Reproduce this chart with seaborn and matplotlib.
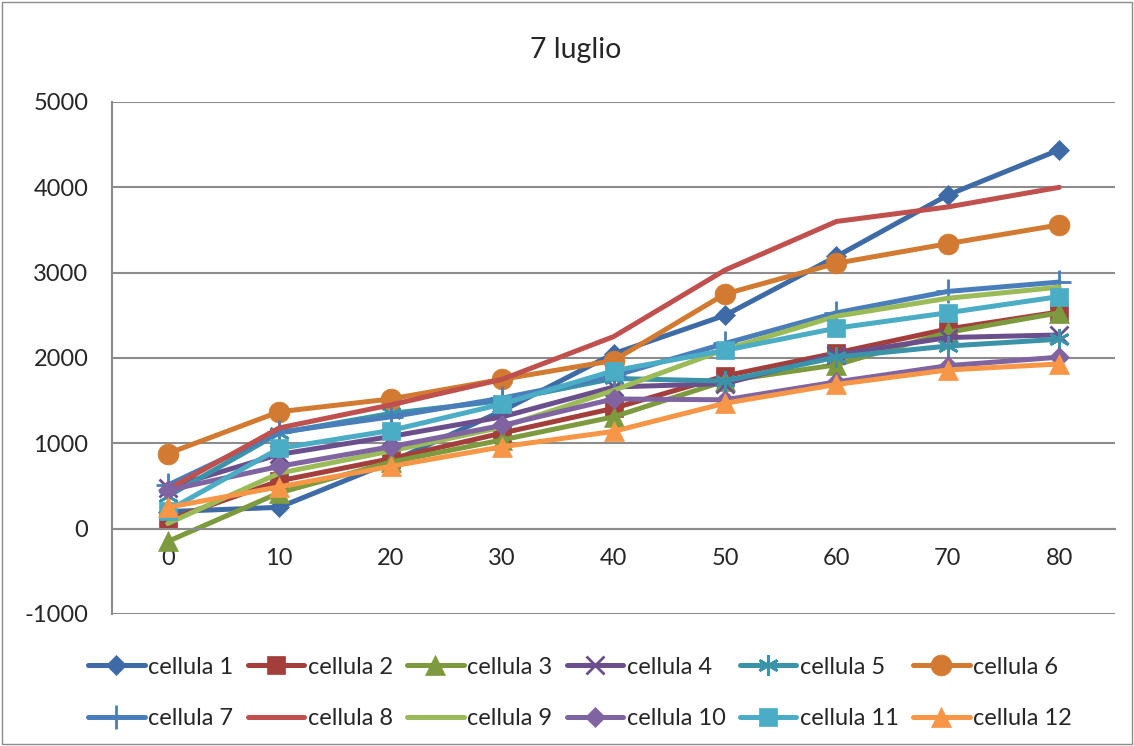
import matplotlib
matplotlib.use("Agg")
import matplotlib.pyplot as plt
import seaborn as sns
import pandas as pd
from matplotlib.patches import Rectangle

minutes = [0, 10, 20, 30, 40, 50, 60, 70, 80]
cellula_1 = [200, 250, 780, 1380, 2050, 2500, 3190, 3910, 4440]
cellula_2 = [100, 560, 820, 1120, 1410, 1790, 2060, 2340, 2540]
cellula_3 = [-150, 420, 780, 1040, 1310, 1730, 1920, 2300, 2530]
cellula_4 = [480, 870, 1080, 1310, 1660, 1700, 2040, 2240, 2270]
cellula_5 = [380, 1120, 1350, 1500, 1760, 1730, 2010, 2140, 2220]
cellula_6 = [880, 1370, 1520, 1750, 1970, 2750, 3110, 3340, 3560]
cellula_7 = [510, 1130, 1310, 1530, 1790, 2170, 2530, 2780, 2890]
cellula_8 = [460, 1180, 1450, 1750, 2250, 3030, 3600, 3770, 4000]
cellula_9 = [60, 650, 910, 1190, 1620, 2100, 2490, 2700, 2830]
cellula_10 = [450, 730, 960, 1210, 1520, 1510, 1720, 1910, 2010]
cellula_11 = [210, 940, 1150, 1460, 1850, 2090, 2350, 2530, 2720]
cellula_12 = [250, 490, 730, 960, 1140, 1470, 1690, 1860, 1930]

series_names = ["cellula %d" % i for i in range(1, 13)]
series_values = [cellula_1, cellula_2, cellula_3, cellula_4, cellula_5, cellula_6,
                 cellula_7, cellula_8, cellula_9, cellula_10, cellula_11, cellula_12]
y_ticks = [-1000, 0, 1000, 2000, 3000, 4000, 5000]
title = "7 luglio"

colors = ["#3E6BA5", "#A43E3B", "#7D9B3E", "#6B4F8D", "#3A93A9", "#D27A31",
          "#4A7EBB", "#C0504D", "#9BBB59", "#8064A2", "#4BACC6", "#F79646"]
markers = ["D", "s", "^", "x", (6, 2, 0), "o", "+", None, None, "D", "s", "^"]
msizes = [10.5, 13, 14, 13, 15, 15, 17, 0, 0, 10.5, 13, 14]

sns.set_theme(style="white")
plt.rcParams['font.family'] = ['Lato', 'DejaVu Sans']
plt.rcParams['axes.unicode_minus'] = False

fig = plt.figure(figsize=(11.34, 7.46), dpi=100)
ax = fig.add_axes([112/1134, 1 - 614/746, (1115-112)/1134, (614-102)/746])

df = pd.DataFrame({
    "x": minutes * 12,
    "y": [v for s in series_values for v in s],
    "serie": [n for n in series_names for _ in minutes],
})

for i, name in enumerate(series_names):
    sub = df[df["serie"] == name]
    m = markers[i]
    if m is None:
        kw = dict(marker=None)
    else:
        thin = m in ("x", "+") or isinstance(m, tuple)
        kw = dict(marker=m, markersize=msizes[i], markeredgewidth=2 if thin else 0.5,
                  markeredgecolor=colors[i])
    sns.lineplot(data=sub, x="x", y="y", ax=ax, color=colors[i], linewidth=3.6,
                 label=name, legend=False, sort=False, **kw)

ax.set_xlim(-5, 85)
ax.set_ylim(-1000, 5000)
ax.set_yticks(y_ticks)
ax.set_xticks(minutes)
ax.set_xticklabels([str(m) for m in minutes])
ax.yaxis.grid(True, color="#8C8C8C", linewidth=1.5)
ax.xaxis.grid(False)
ax.set_axisbelow(True)
for s in ["top", "right"]:
    ax.spines[s].set_visible(False)
ax.spines["left"].set_color("#8C8C8C")
ax.spines["left"].set_linewidth(1.5)
ax.spines["bottom"].set_position(("data", 0))
ax.spines["bottom"].set_color("#8C8C8C")
ax.spines["bottom"].set_linewidth(1.5)
ax.tick_params(axis="x", length=0, pad=14, labelsize=17)
ax.tick_params(axis="y", length=0, pad=17, labelsize=17)
ax.set_xlabel("")
ax.set_ylabel("")

fig.text(576/1134, 1 - 50/746, title, ha="center", va="center", fontsize=20.5)

handles, labels = ax.get_legend_handles_labels()
order = []
for c in range(6):
    order += [c, c + 6]
fig.legend([handles[k] for k in order], [labels[k] for k in order],
           loc="center", bbox_to_anchor=(580/1134, 1 - 693/746), ncol=6,
           frameon=False, fontsize=17, handlelength=2.4, handletextpad=0.15,
           columnspacing=0.6, labelspacing=1.3)

fig.patches.append(Rectangle((2/1134, 2/746), 1 - 4/1134, 1 - 4/746, transform=fig.transFigure,
                             fill=False, edgecolor="#8C8C8C", linewidth=1))

fig.savefig("out.png", dpi=100)
